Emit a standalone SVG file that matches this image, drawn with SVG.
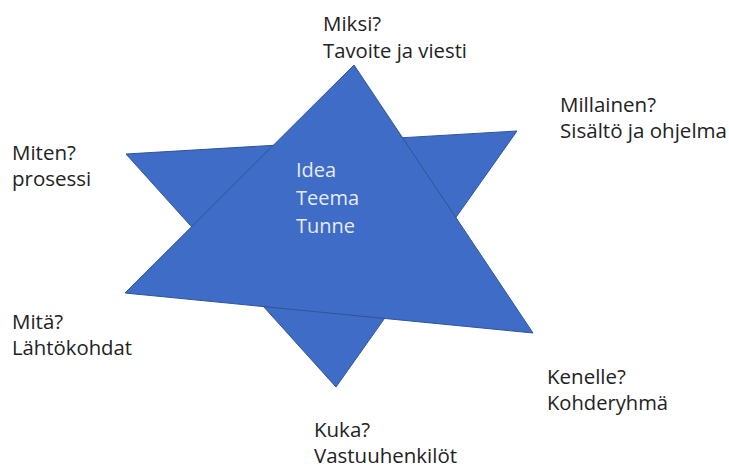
<svg xmlns="http://www.w3.org/2000/svg" width="729" height="469" viewBox="0 0 729 469">
  <style>
    .tri { fill: #3f6cc6; stroke: #2f5597; stroke-width: 1; stroke-linejoin: miter; }
    .lbl { font-family: "Open Sans", "Liberation Sans", sans-serif; font-size: 20.5px; fill: #222222; }
    .core { font-family: "Open Sans", "Liberation Sans", sans-serif; font-size: 20px; fill: #e4ebf7; }
  </style>
  <rect width="729" height="469" fill="#ffffff"/>

  <!-- Six-pointed star: downward triangle behind, upward triangle in front -->
  <g id="star">
    <polygon id="triangle-down" class="tri" points="126,154 517,131 336,387"/>
    <polygon id="triangle-up" class="tri" points="354,65 533,333 125,293"/>
  </g>

  <g id="center">
    <text class="core" x="296" y="177">Idea</text>
    <text class="core" x="296" y="205">Teema</text>
    <text class="core" x="296" y="233">Tunne</text>
  </g>

  <g id="miksi">
    <text class="lbl" x="323" y="31">Miksi?</text>
    <text class="lbl" x="323" y="58" textLength="144" lengthAdjust="spacingAndGlyphs">Tavoite ja viesti</text>
  </g>
  <g id="millainen">
    <text class="lbl" x="560" y="112">Millainen?</text>
    <text class="lbl" x="560" y="138" textLength="167" lengthAdjust="spacingAndGlyphs">Sisältö ja ohjelma</text>
  </g>
  <g id="miten">
    <text class="lbl" x="12" y="160">Miten?</text>
    <text class="lbl" x="12" y="186">prosessi</text>
  </g>
  <g id="mita">
    <text class="lbl" x="12" y="329">Mitä?</text>
    <text class="lbl" x="12" y="355" textLength="120" lengthAdjust="spacingAndGlyphs">Lähtökohdat</text>
  </g>
  <g id="kenelle">
    <text class="lbl" x="547" y="384">Kenelle?</text>
    <text class="lbl" x="547" y="410" textLength="121" lengthAdjust="spacingAndGlyphs">Kohderyhmä</text>
  </g>
  <g id="kuka">
    <text class="lbl" x="314" y="437">Kuka?</text>
    <text class="lbl" x="314" y="463" textLength="143" lengthAdjust="spacingAndGlyphs">Vastuuhenkilöt</text>
  </g>
</svg>
